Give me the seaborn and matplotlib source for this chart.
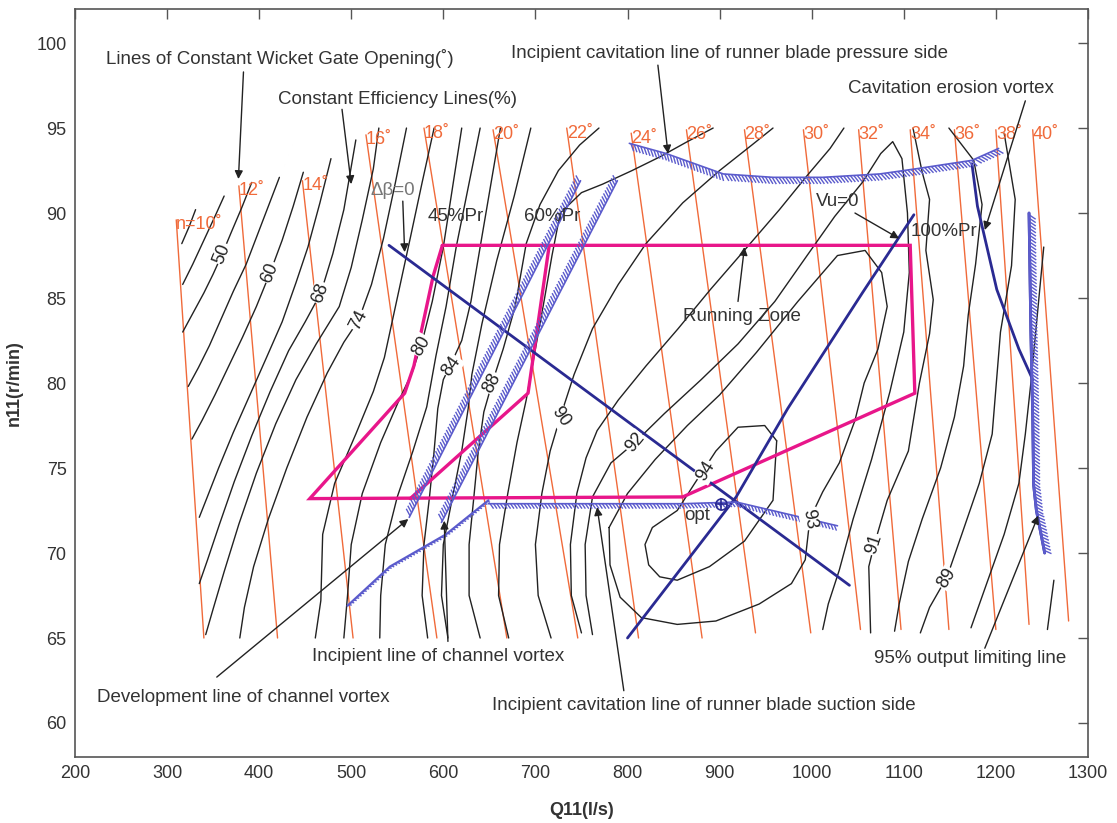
import numpy as np
import pandas as pd
import matplotlib
matplotlib.use("Agg")
import matplotlib.pyplot as plt
from matplotlib.collections import LineCollection
from matplotlib.transforms import IdentityTransform
import seaborn as sns

sns.set_theme(style="white")
plt.rcParams['font.family'] = ['Liberation Sans', 'DejaVu Sans']

TXT = "#333333"
ORANGE = "#F06A3A"
NAVY = "#2A2A92"
HATCH = "#5B5BCC"
PINK = "#E8168A"

# ---- axes ----
x_ticks = [200, 300, 400, 500, 600, 700, 800, 900, 1000, 1100, 1200, 1300]
y_ticks = [60, 65, 70, 75, 80, 85, 90, 95, 100]

# ---- constant wicket gate opening lines (deg): top point, bottom point ----
gate_deg   = [10, 12, 14, 16, 18, 20, 22, 24, 26, 28, 30, 32, 34, 36, 38, 40]
gate_top_q = [310, 378, 447, 516, 579, 654, 734, 804, 864, 927, 991, 1051, 1107, 1155, 1200, 1240]
gate_top_n = [89.6, 91.6, 91.9, 94.6, 95.0, 94.9, 95.0, 94.7, 94.9, 94.9, 94.9, 94.9, 94.9, 94.9, 94.9, 94.9]
gate_bot_q = [340, 420, 502, 593, 669, 746, 812, 881, 939, 999, 1053, 1097, 1149, 1200, 1236, 1279]
gate_bot_n = [65.0, 65.0, 65.0, 65.0, 65.0, 65.0, 65.0, 65.0, 65.3, 65.3, 65.5, 65.5, 65.5, 65.5, 65.8, 66.0]

# ---- constant efficiency lines, (Q11, n11) vertices ----
eta_46 = [(316, 88.2), (324, 89.2), (331, 90.2)]
eta_48 = [(317, 85.8), (328, 87.0), (340, 88.4), (352, 89.8), (362, 91.0)]
eta_50 = [(317, 83.0), (328, 84.1), (340, 85.3), (350, 86.4), (360, 87.6), (370, 88.9), (381, 90.3), (392, 91.8)]
eta_55 = [(323, 79.8), (334, 80.9), (346, 82.2), (359, 83.8), (372, 85.4), (386, 87.0), (398, 88.7), (410, 90.4), (422, 92.1)]
eta_60 = [(327, 76.7), (338, 77.8), (352, 79.3), (367, 81.0), (382, 82.7), (397, 84.5), (412, 86.5), (425, 88.4),
          (437, 90.4), (448, 92.4)]
eta_64 = [(335, 72.1), (343, 73.2), (356, 75.0), (372, 77.1), (390, 79.3), (408, 81.5), (425, 83.6), (440, 85.9),
          (453, 88.0), (466, 90.6), (478, 93.2)]
eta_68 = [(335, 68.2), (344, 69.6), (357, 71.7), (373, 74.2), (392, 76.9), (412, 79.5), (432, 81.9), (450, 83.6),
          (467, 85.3), (480, 87.6), (492, 90.2), (505, 94.3)]
eta_71 = [(342, 65.2), (350, 66.7), (362, 68.9), (378, 71.7), (397, 74.7), (418, 77.6), (440, 80.2), (462, 82.3),
          (487, 84.5), (500, 86.8), (512, 89.6), (524, 92.6), (530, 95.0)]
eta_74 = [(379, 65.0), (384, 66.8), (394, 69.2), (410, 72.0), (430, 75.0), (452, 78.0), (474, 80.6), (492, 82.4),
          (508, 83.7), (522, 85.8), (535, 88.5), (548, 91.8), (560, 95.0)]
eta_77 = [(461, 65.0), (467, 67.2), (469, 71.1), (482, 74.1), (505, 77.0), (524, 79.5), (536, 81.5), (542, 83.0),
          (552, 85.5), (564, 88.5), (577, 91.8), (590, 95.0)]
eta_80 = [(492, 65.0), (496, 67.5), (500, 70.5), (512, 73.5), (532, 76.5), (552, 79.0), (566, 80.6), (576, 82.2),
          (588, 84.8), (600, 88.0), (610, 91.5), (620, 95.0)]
eta_82 = [(531, 65.0), (532, 67.5), (537, 70.5), (550, 73.3), (567, 76.0), (582, 78.6), (592, 81.6), (603, 84.5),
          (614, 88.0), (627, 91.5), (640, 95.0)]
eta_84 = [(583, 65.0), (577, 67.5), (579, 70.5), (585, 73.3), (590, 76.0), (594, 78.5), (600, 80.2), (609, 81.2),
          (620, 82.5), (630, 84.8), (640, 88.0), (651, 91.5), (662, 95.0)]
eta_86 = [(605, 65.0), (598, 67.5), (600, 70.5), (610, 73.3), (620, 76.0), (627, 78.5), (631, 80.5), (642, 83.5),
          (658, 87.2), (677, 91.0), (695, 95.0)]
eta_88 = [(640, 65.0), (628, 67.5), (628, 70.5), (633, 73.2), (638, 76.0), (644, 78.3), (653, 80.0), (665, 82.0),
          (678, 84.5), (690, 88.2), (705, 90.5), (725, 92.5), (748, 94.0), (769, 95.0)]
eta_89 = [(671, 65.0), (660, 67.5), (661, 70.5), (670, 73.5), (680, 76.5), (690, 79.0), (700, 82.0), (710, 85.0),
          (718, 87.5), (727, 90.0), (750, 91.2), (773, 91.7), (805, 92.5), (835, 93.3), (865, 94.2), (893, 95.0)]
eta_90 = [(717, 65.0), (703, 67.5), (700, 70.5), (707, 73.5), (716, 76.0), (727, 78.0), (742, 80.5), (762, 83.2),
          (790, 85.8), (820, 88.2), (860, 90.6), (900, 92.5), (935, 94.0), (958, 95.0)]
eta_91 = [(750, 65.3), (739, 67.5), (738, 70.5), (745, 73.5), (755, 75.6), (767, 77.2), (790, 79.0), (820, 81.0),
          (855, 83.2), (890, 85.5), (930, 88.0), (965, 90.2), (995, 92.2), (1020, 93.8), (1035, 95.0)]
eta_92 = [(762, 65.2), (755, 67.5), (754, 70.5), (762, 73.3), (782, 75.3), (808, 76.5), (840, 78.2), (880, 80.2),
          (920, 82.3), (960, 84.8), (995, 87.5), (1025, 89.8), (1055, 91.8), (1075, 93.5), (1088, 94.2),
          (1098, 93.2), (1104, 90.0), (1106, 86.5), (1100, 83.0), (1085, 79.5), (1065, 75.5), (1045, 72.0),
          (1030, 69.0), (1018, 67.0), (1012, 65.5)]
eta_93 = [(780, 71.5), (800, 73.5), (830, 75.5), (865, 77.5), (900, 79.3), (940, 81.8), (985, 84.8), (1028, 87.5),
          (1058, 87.8), (1076, 86.5), (1082, 84.5), (1072, 82.0), (1057, 80.0), (1047, 77.8), (1030, 75.3),
          (1012, 73.6), (998, 72.0), (993, 69.6), (978, 68.2), (943, 67.0), (896, 66.0), (854, 65.8),
          (815, 66.2), (792, 67.4), (781, 69.3), (780, 71.5)]
eta_94 = [(962, 76.6), (949, 77.5), (920, 77.4), (896, 76.0), (873, 74.1), (854, 72.5), (827, 71.5), (819, 70.5),
          (823, 69.3), (835, 68.6), (854, 68.4), (889, 69.2), (927, 70.7), (958, 73.1), (962, 76.6)]
eta_91_r = [(1110, 95.0), (1120, 92.4), (1128, 90.8), (1124, 87.8), (1132, 84.9), (1128, 82.9), (1117, 80.0),
            (1105, 76.0), (1082, 73.1), (1068, 70.5), (1062, 69.2), (1064, 65.3)]
eta_90_r = [(1149, 95.0), (1176, 93.1), (1185, 90.5), (1178, 87.0), (1170, 84.0), (1165, 81.0), (1155, 78.0),
            (1140, 75.0), (1120, 72.0), (1105, 69.5), (1095, 67.0), (1090, 65.4)]
eta_89_r = [(1209, 94.7), (1221, 90.8), (1217, 86.9), (1205, 83.0), (1196, 77.0), (1182, 74.1), (1163, 71.1),
            (1147, 68.6), (1128, 66.8), (1118, 65.3)]
eta_87_r = [(1173, 65.6), (1190, 68.2), (1209, 71.1), (1225, 74.1), (1232, 77.0), (1238, 80.0), (1245, 84.0),
            (1252, 88.0)]
eta_85_r = [(1256, 65.5), (1263, 68.4)]

eta_lines = [eta_46, eta_48, eta_50, eta_55, eta_60, eta_64, eta_68, eta_71, eta_74, eta_77, eta_80, eta_82,
             eta_84, eta_86, eta_88, eta_89, eta_90, eta_91, eta_92, eta_93, eta_94,
             eta_91_r, eta_90_r, eta_89_r, eta_87_r, eta_85_r]

# ---- running zone (pink) ----
zone_q = [599, 1107, 1112, 860, 455, 558, 568, 589, 599]
zone_n = [88.1, 88.1, 79.4, 73.3, 73.2, 79.4, 81.0, 86.3, 88.1]
pr60_q = [715, 692, 564]
pr60_n = [88.1, 79.4, 73.2]

# ---- navy characteristic lines ----
dbeta_q, dbeta_n = [541, 1041], [88.1, 68.1]
vu0_q = [800, 918, 974, 1055, 1111]
vu0_n = [65.0, 73.3, 78.5, 85.3, 89.9]
erosion_q = [1174, 1180, 1201, 1225, 1240]
erosion_n = [92.9, 90.4, 85.5, 82.0, 80.2]
limit_q = [1236, 1238, 1240, 1241, 1244, 1253]
limit_n = [90.0, 83.0, 78.0, 74.0, 72.5, 70.0]

# ---- hatched cavitation / vortex lines ----
pressure_q = [802, 842, 904, 958, 1012, 1074, 1113, 1174, 1203]
pressure_n = [94.1, 93.5, 92.3, 92.1, 92.1, 92.3, 92.6, 93.1, 93.8]
suction_q = [649, 860, 918, 1028]
suction_n = [72.9, 72.9, 73.0, 71.6]
chan_inc_q = [496, 542, 603, 649]
chan_inc_n = [66.9, 69.2, 71.1, 73.1]
dev_q, dev_n = [563, 749], [72.1, 91.9]
inc_q, inc_n = [598, 789], [71.8, 91.9]

opt_q, opt_n = 902, 72.9

# ---- contour value labels ----
lab_text = ["50", "60", "68", "74", "80", "84", "88", "90", "92", "94", "93", "91", "89"]
lab_q = [360, 412, 467, 508, 576, 609, 653, 727, 808, 885, 997, 1068, 1147]
lab_n = [87.6, 86.5, 85.3, 83.7, 82.2, 81.0, 80.0, 78.0, 76.5, 74.8, 72.0, 70.5, 68.5]
lab_rot = [68, 68, 70, 63, 60, 55, 62, -55, 50, 58, -80, 72, 58]

# ---- annotation texts (left edge, centre line) ----
note_text = [
    "Lines of Constant Wicket Gate Opening(\u02da)",
    "Constant Efficiency Lines(%)",
    "45%Pr",
    "60%Pr",
    "Incipient cavitation line of runner blade pressure side",
    "Cavitation erosion vortex",
    "Vu=0",
    "100%Pr",
    "Running Zone",
    "Incipient line of channel vortex",
    "Development line of channel vortex",
    "Incipient cavitation line of runner blade suction side",
    "95% output limiting line",
    "opt",
]
note_q = [234, 420, 583, 688, 673, 1039, 1005, 1107, 860, 457, 224, 653, 1068, 862]
note_n = [99.1, 96.7, 89.8, 89.8, 99.4, 97.3, 90.7, 88.9, 83.9, 63.9, 61.5, 61.0, 63.8, 72.2]

arrow_tail_q = [383, 490, 556, 833, 1232, 1047, 920, 605, 354, 796, 1188]
arrow_tail_n = [98.3, 96.1, 90.7, 98.7, 96.6, 90.0, 84.8, 64.8, 62.7, 61.9, 64.4]
arrow_head_q = [377.5, 500, 558, 844, 1188, 1095, 927, 601, 562, 767, 1246]
arrow_head_n = [92.0, 91.7, 87.7, 93.5, 89.0, 88.5, 88.0, 71.9, 72.0, 72.7, 72.2]

# ---- figure ----
fig = plt.figure(figsize=(11.17, 8.23), dpi=100)
ax = fig.add_axes([0.0671, 0.0802, 0.9069, 0.9088])
ax.set_xlim(200, 1300)
ax.set_ylim(58, 102)

gate_df = pd.DataFrame({
    "Q": gate_top_q + gate_bot_q,
    "n": gate_top_n + gate_bot_n,
    "deg": gate_deg + gate_deg,
})
sns.lineplot(data=gate_df, x="Q", y="n", units="deg", estimator=None, sort=False,
             color=ORANGE, lw=1.0, ax=ax)

eta_df = pd.DataFrame([(i, q, n) for i, line in enumerate(eta_lines) for q, n in line],
                      columns=["line", "Q", "n"])
sns.lineplot(data=eta_df, x="Q", y="n", units="line", estimator=None, sort=False,
             color="#222222", lw=1.0, ax=ax)

ax.plot(zone_q, zone_n, color=PINK, lw=2.4, solid_joinstyle="miter")
ax.plot(pr60_q, pr60_n, color=PINK, lw=2.4)

for q, n in [(dbeta_q, dbeta_n), (vu0_q, vu0_n), (erosion_q, erosion_n), (limit_q, limit_n)]:
    ax.plot(q, n, color=NAVY, lw=2.0)

fig.canvas.draw()


def hatch_line(q, n, side=-1, spacing=3.4, length=7.0, tilt=35, lw_base=1.2, lw_tick=1.0):
    """Draw a line with short slanted ticks on one side (screen pixels)."""
    ax.plot(q, n, color=HATCH, lw=lw_base)
    pts = ax.transData.transform(np.column_stack([q, n]))
    seg = np.diff(pts, axis=0)
    seglen = np.hypot(seg[:, 0], seg[:, 1])
    cum = np.concatenate([[0], np.cumsum(seglen)])
    s = np.arange(spacing / 2, cum[-1], spacing)
    idx = np.clip(np.searchsorted(cum, s) - 1, 0, len(seg) - 1)
    d = seg[idx] / seglen[idx][:, None]
    start = np.column_stack([np.interp(s, cum, pts[:, 0]), np.interp(s, cum, pts[:, 1])])
    nrm = side * np.column_stack([-d[:, 1], d[:, 0]])
    t = np.radians(tilt)
    vec = np.cos(t) * nrm + np.sin(t) * d
    end = start + length * vec
    lc = LineCollection(np.stack([start, end], axis=1), colors=HATCH, linewidths=lw_tick,
                        transform=IdentityTransform())
    ax.add_collection(lc)


hatch_line(pressure_q, pressure_n, side=-1, length=8)
hatch_line(suction_q, suction_n, side=-1, length=6)
hatch_line(chan_inc_q, chan_inc_n, side=-1, length=3, lw_base=1.6)
hatch_line(dev_q, dev_n, side=1, length=8)
hatch_line(inc_q, inc_n, side=1, length=8)
hatch_line(limit_q, limit_n, side=1, length=8, lw_base=2.0)

ax.plot(opt_q, opt_n, marker="o", ms=8, mfc="none", mec=NAVY, mew=1.2)
ax.plot(opt_q, opt_n, marker="+", ms=8, mec=NAVY, mew=1.2)

for t, q, n, r in zip(lab_text, lab_q, lab_n, lab_rot):
    ax.text(q, n, t, rotation=r, ha="center", va="center", fontsize=13, color="#222222",
            rotation_mode="anchor",
            bbox=dict(boxstyle="square,pad=0.05", fc="white", ec="none"))

for i, (d, q, n) in enumerate(zip(gate_deg, gate_top_q, gate_top_n)):
    label = f"n={d}\u02da" if i == 0 else f"{d}\u02da"
    ax.text(q, n - 0.3, label, ha="left", va="center", fontsize=13, color=ORANGE)

for t, q, n in zip(note_text, note_q, note_n):
    ax.text(q, n, t, ha="left", va="center", fontsize=13.5, color=TXT)
ax.text(521, 91.3, "\u0394\u03b2=0", ha="left", va="center", fontsize=13.5, color="#777777")

for tq, tn, hq, hn in zip(arrow_tail_q, arrow_tail_n, arrow_head_q, arrow_head_n):
    ax.annotate("", xy=(hq, hn), xytext=(tq, tn),
                arrowprops=dict(arrowstyle="-|>", color="#222222", lw=1.0,
                                mutation_scale=12, shrinkA=0, shrinkB=0))

ax.set_xticks(x_ticks)
ax.set_yticks(y_ticks)
ax.tick_params(direction="in", length=7, width=1, colors="#555555", labelcolor=TXT,
               labelsize=13, top=True, right=True, labeltop=False, labelright=False, pad=6)
for sp in ax.spines.values():
    sp.set_color("#555555")
    sp.set_linewidth(1.2)
ax.set_xlabel("Q11(l/s)", fontsize=13, fontweight="bold", color=TXT, labelpad=14)
ax.set_ylabel("n11(r/min)", fontsize=13, fontweight="bold", color=TXT, labelpad=10)

fig.savefig("out.png", dpi=100)
